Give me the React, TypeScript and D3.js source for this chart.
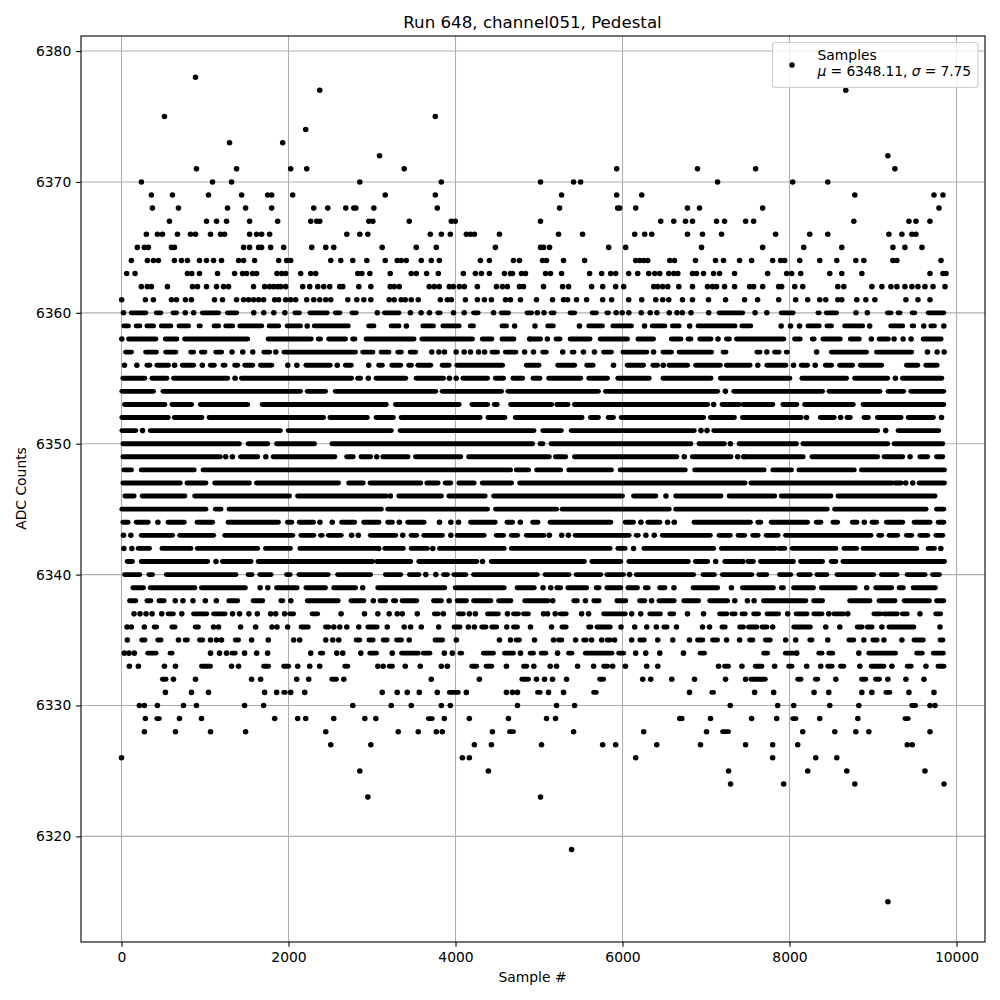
import { useEffect, useRef } from 'react';
import * as d3 from 'd3';

// A row is one ADC level. Entries are single samples, or [first, last] where the
// dots of that level overlap into one bar in the picture.
type Sample = number | [number, number];

const xTicks = [0, 2000, 4000, 6000, 8000, 10000];
const yTicks = [6320, 6330, 6340, 6350, 6360, 6370, 6380];

const row6378: Sample[] = [886];
const row6377: Sample[] = [2374, 8674];
const row6375: Sample[] = [514, 3758];
const row6374: Sample[] = [2206];
const row6373: Sample[] = [1294, 1930];
const row6372: Sample[] = [3090, 9178];
const row6371: Sample[] = [898, 1378, 2026, 2218, 3386, 5930, 6898, 7594, 9262];
const row6370: Sample[] = [238, 1090, 1318, 2854, 3830, 5018, 5414, 5498, 7138, 8038, 8458];
const row6369: Sample[] = [358, 610, 1042, 1438, 1750, 1798, 2050, 3158, 3758, 5270, 5930, 6230, 8782, 9730, 9838];
const row6368: Sample[] = [370, 682, 1270, 1486, 1798, 2302, 2470, 2686, 2782, 2806, 3022, 3782, 5246, 5942, 5966, 6158, 6778, 6922, 7678, 9790];
const row6367: Sample[] = [574, 1018, 1138, 1258, 1534, 1870, 2266, 2338, 2374, 2962, 3010, 3446, 3950, 3998, 5018, 6458, 6614, 6754, 6838, 7126, 7222, 7474, 7570, 8770, 9430, 9514, 9682];
const row6366: Sample[] = [298, 430, 490, 670, 826, 886, 1066, 1186, 1234, 1534, 1618, 1678, 1774, 2698, 2854, 2950, 3698, 3830, 3938, 4130, 4178, 4226, 4526, 5234, 5522, 6146, 6266, 6350, 6778, 6958, 7186, 7834, 8242, 8458, 9190, 9346, 9466, 9514];
const row6365: Sample[] = [190, 274, 322, 598, 634, 1462, 1534, 1642, 1678, 1786, 1942, 2278, 2446, 2542, 3122, 3530, 3770, 4478, 5018, 5054, 5126, 5834, 6038, 6946, 7678, 8170, 8626, 9238, 9382, 9586];
const row6364: Sample[] = [118, 310, 382, 442, 634, 718, 790, 934, 1018, 1102, 1198, 1402, 1462, 1594, 1882, 1978, 2026, 2506, 2626, 2770, 2938, 3158, 3302, 3350, 3410, 3590, 3710, 3806, 4298, 4406, 4694, 4766, 5042, 5090, 5294, 5546, 6158, 6206, 6254, 6302, 6566, 6622, 6874, 7114, 7210, 7402, 7546, 7798, 7894, 7942, 8122, 8362, 8566, 8794, 8890, 9238, 9286, 9814];
const row6363: Sample[] = [62, 162, 790, 842, 934, 1150, 1354, 1450, 1498, 1570, 1618, 1862, 1918, 1966, 2146, 2266, 2326, 2830, 2878, 2974, 3218, 3470, 3530, 3654, 3794, 4094, 4238, 4310, 4406, 4586, 4658, 4682, 4790, 4838, 5078, 5138, 5270, 5606, 5750, 5858, 5918, 6074, 6182, 6314, 6386, 6446, 6554, 6614, 6662, 6838, 6886, 6970, 7090, 7162, 7342, 7738, 7966, 8026, 8134, 8482, 8626, 8866, 9682, 9838, 9874];
const row6362: Sample[] = [238, 310, 358, 550, 850, 910, 1018, 1138, 1222, 1282, 1582, 1714, 1774, 1822, 1870, 1906, 1966, 2170, 2254, 2350, 2422, 2494, 2614, 2650, 2842, 2986, 3218, 3266, 3326, 3686, 3746, 3806, 3926, 3974, 4046, 4106, 4262, 4490, 4562, 4622, 4766, 4814, 5054, 5282, 5354, 5630, 5762, 5918, 6014, 6374, 6422, 6482, 6542, 6674, 6838, 7018, 7078, 7126, 7222, 7342, 7522, 7570, 7678, 7870, 7906, 8062, 8158, 8578, 8650, 8986, 9106, 9214, 9286, 9382, 9466, 9538, 9622, 9718, 9862];
const row6361: Sample[] = [2, 286, 382, 598, 658, 766, 838, 1114, 1210, 1378, 1462, 1522, 1582, 1642, 1702, 1834, 1882, 1966, 2026, 2086, 2218, 2302, 2374, 2446, 2506, 2710, 2818, 2902, 2986, 3206, 3266, 3350, 3398, 3470, 3554, 3818, 3902, 3950, 4118, 4262, 4346, 4430, 4598, 4658, 4778, 4970, 5162, 5294, 5342, 5450, 5570, 5762, 5870, 6074, 6230, 6398, 6482, 6554, 6718, 6838, 7030, 7234, 7462, 7618, 7870, 8074, 8218, 8362, 8434, 8578, 8626, 8806, 8914, 9022, 9394, 9538, 9682];
const row6360: Sample[] = [24, [116, 292], [416, 472], [616, 660], 764, 864, [968, 1164], [1268, 1380], 1584, 1704, 1824, 1956, [2076, 2132], [2256, 2464], [2560, 2616], [2760, 2812], 3064, [3148, 3324], 3460, 3588, 3688, [3788, 3816], 3976, 4104, [4216, 4272], 4456, [4548, 4636], [4856, 4912], 4980, 5060, [5144, 5180], [5372, 5428], [5636, 5688], [5812, 5832], 5924, 5996, 6076, 6224, 6332, 6412, 6560, 6652, 6716, 6820, 7032, [7156, 7440], 7588, 7728, [7900, 8044], [8340, 8356], [8440, 8564], 8796, 8932, [9172, 9216], [9300, 9324], [9468, 9500], [9660, 9848]];
const row6359: Sample[] = [[28, 84], [176, 220], [304, 384], [476, 592], [688, 804], [928, 944], [1108, 1164], [1248, 1332], [1416, 1680], [1768, 1884], [1984, 2144], 2224, [2308, 2716], [2960, 3024], [3228, 3324], 3412, [3608, 3736], [3848, 4044], [4176, 4216], [4556, 4612], 4708, 4952, [5104, 5172], 5484, [5596, 5760], [5884, 6108], 6264, [6356, 6508], [6596, 6680], 6804, [6904, 7348], [7428, 7536], 7900, 8012, 8120, [8220, 8356], [8448, 8504], [8660, 8876], 8960, [9212, 9356], [9468, 9488], 9608, [9692, 9736], 9848];
const row6358: Sample[] = [4, [84, 412], [524, 664], [756, 1512], [1756, 2272], [2356, 2384], [2480, 2684], [2768, 2796], [2928, 3504], [3596, 4204], [4320, 4436], [4556, 4700], 4888, [4900, 5020], 5100, [5204, 5252], [5372, 5612], [5732, 6060], [6184, 6372], [6584, 6700], [6784, 6820], [6924, 7060], 7144, [7244, 7280], [7364, 7932], [8060, 8128], [8272, 8296], [8400, 8608], [8728, 8836], 8980, [9072, 9184], 9252, 9360, 9456, [9600, 9816]];
const row6357: Sample[] = [[48, 120], [288, 420], [528, 652], [828, 864], [956, 1000], [1128, 1200], 1324, 1452, 1572, [1704, 1776], 1848, [1944, 2804], [2888, 3012], [3108, 3204], [3308, 3352], [3456, 3524], 3716, 3800, 3868, 4008, 4104, 4180, 4276, 4348, [4436, 4504], [4596, 4724], 4828, 4934, [5044, 5088], 5284, [5396, 5420], 5532, 5664, [5772, 5868], [6004, 6292], 6372, [6484, 6588], [6676, 7068], [7204, 7240], [7608, 7648], 7728, [7820, 7876], [7960, 7976], 8324, [8500, 8924], [9040, 9464], 9652, 9768, 9852];
const row6356: Sample[] = [36, 184, [304, 340], [424, 564], 636, [728, 864], 968, [1064, 1112], [1216, 1240], [1356, 1392], [1476, 1572], [1664, 1800], 1992, 2100, [2208, 2500], 2584, [2680, 2752], 2960, [3080, 3124], [3236, 3344], [3440, 3472], [3548, 3704], [3840, 3924], [4016, 4564], [4848, 5000], [5224, 5428], [5572, 5648], 5892, [6056, 6252], [6364, 6420], 6488, [6556, 6780], [6876, 7172], [7244, 7528], 7620, [7728, 7956], 8048, [8140, 8216], 8308, [8428, 8504], [8600, 8756], [8848, 9104], [9400, 9536], [9632, 9768]];
const row6355: Sample[] = [[16, 280], [364, 544], [624, 1272], 1360, [1436, 2756], [2828, 2864], 2956, [3048, 3404], [3528, 3856], 3928, 4008, [4088, 4384], [4476, 4576], [4688, 4804], [4928, 5012], [5116, 5500], [5596, 5820], [5944, 6320], [6484, 7060], [7172, 8004], [8148, 8684], [8780, 9176], 9268, [9352, 9824]];
const row6354: Sample[] = [[4, 384], [496, 2144], [2224, 2444], [2560, 3764], [3840, 4552], [4628, 5712], [5796, 7140], 7232, [7332, 8396], [8472, 9084], [9180, 9368], [9452, 9848]];
const row6353: Sample[] = [[36, 520], [604, 840], [944, 1512], [1684, 3172], [3280, 4044], [4196, 4384], [4464, 4500], [4660, 5152], [5212, 5348], [5424, 7020], 7092, [7192, 7400], [7444, 7800], [7920, 8088], [8180, 8764], [8880, 9848]];
const row6352: Sample[] = [[4, 560], [632, 964], [1048, 2420], [2496, 2944], [3048, 3256], [3348, 4296], [4388, 4592], [4716, 5516], [5616, 5712], [5828, 5892], [5984, 6972], [7052, 7340], [7436, 8140], 8204, [8368, 8536], 8612, [8688, 8728], [8892, 8944], [9052, 9336], [9420, 9724], 9820];
const row6351: Sample[] = [[4, 172], 252, [344, 1904], [1996, 3232], [3336, 4940], [5044, 5268], [5384, 6860], 6940, 7012, [7092, 9056], 9152, [9300, 9788]];
const row6350: Sample[] = [[16, 1412], [1516, 1752], [1856, 2312], [2520, 4924], [5012, 5048], [5144, 6820], [6916, 7220], 7292, [7396, 8084], [8160, 9176], [9252, 9836]];
const row6349: Sample[] = [[16, 1184], 1248, 1328, [1424, 1632], 1728, [1816, 2556], [2696, 2776], [2868, 2984], 3056, [3128, 3432], [3520, 4064], [4156, 5124], [5196, 5320], [5424, 6652], 6740, [6836, 7300], 7380, 7452, [7460, 8164], [8268, 9056], [9132, 9356], 9444, [9560, 9656], [9760, 9836]];
const row6348: Sample[] = [[28, 120], [236, 872], [976, 4660], [4728, 4876], [4972, 5260], [5356, 5868], [5972, 6752], [6864, 7696], [7800, 8024], [8112, 8776], [8860, 9856]];
const row6347: Sample[] = [[16, 704], [784, 1012], [1116, 1532], [1616, 2600], [2720, 2896], [2976, 3584], [3656, 3792], [3876, 3944], [4040, 4224], [4320, 4672], [4768, 7468], [7536, 9228], [9260, 9336], 9392, 9476, [9552, 9856]];
const row6346: Sample[] = [[40, 152], [248, 760], [876, 2012], [2108, 3172], 3220, [3320, 3832], [3920, 4356], [4456, 6000], [6132, 6400], 6520, [6636, 7180], [7276, 7824], [7900, 8496], [8580, 9744]];
const row6345: Sample[] = [[4, 1012], [1124, 1192], [1288, 3112], [3188, 4384], [4480, 5212], [5276, 6560], [6636, 8452], [8540, 9636], [9760, 9848]];
const row6344: Sample[] = [[16, 80], [176, 320], 436, [556, 752], [904, 1092], [1276, 1880], [1988, 2040], [2128, 2300], 2376, 2524, [2636, 2792], [2900, 3084], [3188, 3244], 3328, [3428, 3624], 3808, 3944, 4036, [4180, 4476], [4616, 4684], 4776, [4924, 4988], [5132, 5860], [6032, 6132], 6220, [6304, 6448], 6540, 6620, [6856, 7532], [7620, 7656], [7780, 8216], [8320, 8376], [8520, 8576], [8752, 8808], 8896, [8988, 9044], [9160, 9356], [9492, 9684], [9780, 9848]];
const row6343: Sample[] = [24, 112, [236, 612], [696, 1104], [1236, 2052], [2148, 2304], [2384, 2404], [2476, 2632], 2756, 2836, [2980, 3284], 3368, [3468, 3536], [3620, 3844], 3944, [4020, 4344], [4488, 4576], [4668, 4744], [4848, 5060], 5124, 5272, 5352, [5432, 6080], [6164, 6188], 6280, 6380, [6476, 7052], [7156, 7292], [7384, 7464], [7560, 7624], [7720, 7864], [7952, 8976], [9068, 9104], [9192, 9296], [9400, 9464], [9560, 9656], [9752, 9836]];
const row6342: Sample[] = [28, 124, [200, 336], [484, 832], [908, 1632], [1724, 2024], [2136, 3048], 3080, [3152, 3376], [3468, 3664], 3728, [3808, 4584], [4668, 5852], [5944, 6032], 6132, [6256, 7092], [7184, 7828], [7872, 7944], [8032, 8556], [8652, 8804], [8880, 9524], [9660, 9736], 9812];
const row6341: Sample[] = [[68, 132], [236, 1032], 1132, [1208, 1552], [1636, 3008], [3056, 3464], [3560, 4256], 4324, [4428, 5544], [5632, 5980], [6076, 6788], [6872, 7020], 7116, [7224, 7412], 7440, [7500, 7568], [7652, 8048], [8132, 8396], [8500, 8556], [8640, 9856]];
const row6340: Sample[] = [[36, 220], [328, 372], [536, 1372], [1516, 1564], [1656, 1792], [1976, 2020], [2124, 2476], [2588, 2984], [3160, 3344], [3448, 3564], 3644, 3764, [3856, 3904], [3980, 4124], [4216, 4980], [5072, 5360], [5444, 5740], [5812, 6012], 6084, [6164, 6852], [6964, 7100], [7196, 7548], [7632, 7728], [7880, 8016], [8112, 8248], [8328, 8448], [8568, 9008], [9100, 9288], [9408, 9624], [9712, 9796]];
const row6339: Sample[] = [[136, 264], [344, 880], [956, 1484], 1660, 1752, [1856, 2104], [2208, 2444], [2540, 2804], 2888, [3068, 3872], [3996, 4584], [4736, 4944], 5048, 5140, [5212, 5260], [5344, 5572], [5684, 5720], [5812, 5980], [6064, 6180], [6272, 6308], [6444, 6508], 6616, [6844, 7140], 7304, [7436, 7808], [7900, 7928], [8048, 8288], [8380, 8788], 8924, [9032, 9224], [9312, 9364], [9480, 9748]];
const row6338: Sample[] = [[96, 172], [304, 352], [448, 512], 644, 736, 856, 1004, 1136, [1284, 1392], [1576, 1692], [1908, 1932], 2028, [2224, 2596], [2748, 2904], 3016, [3096, 3164], [3256, 3284], [3360, 3536], [3736, 3832], 3924, [4020, 4132], [4216, 4424], [4516, 4664], [4828, 5108], 5164, [5416, 5460], 5556, [5656, 5720], [5932, 6040], [6204, 6268], 6348, [6436, 6620], [6732, 6912], [7044, 7260], 7344, 7496, 7576, [7688, 8196], [8288, 8396], [8720, 8964], [9072, 9264], [9372, 9676], [9760, 9848]];
const row6337: Sample[] = [150, 222, 294, 366, 482, [558, 622], 722, [862, 1022], [1102, 1242], 1330, 1414, 1526, 1626, 1786, 1846, 1954, [2014, 2062], [2282, 2350], 2630, 2910, 3070, 3206, 3302, 3362, 3542, [3746, 3794], 3854, [4034, 4094], 4166, 4238, [4382, 4514], 4622, [4694, 4754], [4814, 4874], 5054, 5102, 5194, [5254, 5326], 5510, 5594, [5774, 6034], 6110, 6218, [6326, 6454], [6566, 6614], 6778, 6970, [7162, 7250], [7310, 7350], [7430, 7470], [7570, 7630], [7730, 7870], 7978, [8078, 8210], [8290, 8390], 8470, [8530, 8650], 8698, [9010, 9090], [9130, 9290], [9350, 9410], 9562, [9750, 9810]];
const row6336: Sample[] = [66, 118, 274, [390, 422], [602, 642], [882, 922], 1102, 1162, 1426, 1606, 1802, 1862, 1990, [2150, 2238], [2442, 2482], 2542, 2614, 2698, 2842, [2950, 3062], 3182, 3386, 3462, 3590, 3798, [3982, 4054], 4154, 4226, [4314, 4366], [4434, 4494], 4614, [4694, 4742], 4898, 5150, [5274, 5326], [5594, 5622], [5694, 5854], 5982, 6146, 6290, 6406, [6494, 6534], 6646, 6958, 7042, [7190, 7230], [7402, 7450], [7510, 7610], [7670, 7730], 7798, [8050, 8250], 8434, 8602, [8810, 8870], [8930, 8990], 9106, [9190, 9490], 9802];
const row6335: Sample[] = [70, [242, 282], [434, 474], 682, [762, 790], [934, 974], 1066, 1138, 1198, [1362, 1402], 1558, 1758, 2062, 2134, 2446, 2530, 2602, [2810, 2854], [2962, 3014], [3134, 3182], [3294, 3354], 3446, [3754, 3846], 4010, 4526, 4658, [4726, 4766], 4946, 5174, [5234, 5274], 5438, [5534, 5566], 5630, 5750, [5814, 5854], 5906, 6110, [6206, 6262], 6422, 6602, 6802, [6898, 6962], [7078, 7138], 7246, 7402, [7522, 7562], [7710, 7770], 7954, 8074, [8242, 8270], 8458, [8710, 8770], 8890, [8998, 9050], 9130, 9346, [9490, 9602], [9802, 9838]];
const row6334: Sample[] = [34, 90, 154, [314, 414], [582, 606], 1066, 1174, 1258, [1322, 1362], 1474, 1618, 1750, 2266, [2382, 2410], 2578, 2650, 2866, [2974, 3054], 3242, [3354, 3554], [3614, 3694], 3866, 3962, [4054, 4074], [4334, 4454], [4586, 4694], 4778, [4894, 4934], [5026, 5082], 5222, [5354, 5394], [5554, 5874], [5954, 6014], 6158, 6278, 6446, 6730, [6930, 6982], [7690, 7738], [7950, 8050], 8086, [8350, 8390], [8470, 8518], 8830, [8950, 9270], [9522, 9590], [9722, 9842]];
const row6333: Sample[] = [94, 202, 514, 646, [958, 1066], 1318, 1402, [1702, 1762], [1942, 2002], 2110, 2254, 2374, [2674, 2710], 3070, 3134, [3206, 3246], 3398, 3578, 3830, 3902, [4194, 4254], [4366, 4434], 4610, [4814, 4854], 4938, 5134, 5210, 5462, 5654, [5774, 5822], 5882, 6034, 6290, 6422, 7150, [7222, 7270], 7430, [7590, 7670], 7822, [7990, 8030], 8206, 8374, [8458, 8510], [8610, 8650], 8842, [8978, 9130], 9226, [9410, 9458], 9634, [9778, 9850]];
const row6332: Sample[] = [[490, 534], 622, 886, 1558, 1666, 2098, 2242, [2518, 2574], 2662, 3710, 4286, [4794, 4874], 4970, 5066, 5162, 5330, [5726, 5774], 6242, 6338, 6590, 6862, 7234, 7474, [7538, 7710], [8098, 8138], [8310, 8338], 8554, [8862, 8914], [9030, 9078], 9178, 9394, 9610];
const row6331: Sample[] = [526, 838, 1042, 1714, 1858, [1942, 1962], 2026, 2194, 3122, 3302, 3422, 3566, 3782, [3926, 4034], 4130, 4610, 4682, 4742, [4982, 5014], 5114, 5294, [5654, 5686], 6802, [7070, 7090], 7582, 7810, 8294, 8470, 8866, 8986, [9154, 9202], 9430, 9730];
const row6330: Sample[] = [214, 274, 430, 742, 898, 1474, 1702, 2770, 3230, 3470, 3830, 3938, 4742, 5210, 5426, 7290, 7858, 8050, 8482, 8830, [9462, 9510], 9682, 9742];
const row6329: Sample[] = [286, [422, 454], 694, 958, 1834, 2110, 2206, 2542, 2914, 3046, [3674, 3722], 3866, 4166, 4634, 5090, 5198, 6686, 6710, 7054, 7546, 7846, [8038, 8078], 8362, 8818, [9382, 9422]];
const row6328: Sample[] = [274, 646, 1066, 1486, 2446, 3314, 3554, 3770, 3842, 4442, [4646, 4694], 5414, 6254, 7006, [7198, 7270], 8158, 8542, 8794, 8950, 9682];
const row6327: Sample[] = [2506, 2986, 4226, 4430, 5030, 5762, 5918, 6410, 6934, 7474, 7798, 8098, 9410, 9470];
const row6326: Sample[] = [0, 4082, 4166, 6158, 7798, 8314, 8566];
const row6325: Sample[] = [2854, 4394, 7270, 8218, 8686, 9622];
const row6324: Sample[] = [7294, 7930, 8782, 9850];
const row6323: Sample[] = [2950, 5018];
const row6319: Sample[] = [5390];
const row6315: Sample[] = [9178];

const levels: [number, Sample[]][] = [
  [6378, row6378], [6377, row6377], [6375, row6375], [6374, row6374], [6373, row6373], [6372, row6372],
  [6371, row6371], [6370, row6370], [6369, row6369], [6368, row6368], [6367, row6367], [6366, row6366],
  [6365, row6365], [6364, row6364], [6363, row6363], [6362, row6362], [6361, row6361], [6360, row6360],
  [6359, row6359], [6358, row6358], [6357, row6357], [6356, row6356], [6355, row6355], [6354, row6354],
  [6353, row6353], [6352, row6352], [6351, row6351], [6350, row6350], [6349, row6349], [6348, row6348],
  [6347, row6347], [6346, row6346], [6345, row6345], [6344, row6344], [6343, row6343], [6342, row6342],
  [6341, row6341], [6340, row6340], [6339, row6339], [6338, row6338], [6337, row6337], [6336, row6336],
  [6335, row6335], [6334, row6334], [6333, row6333], [6332, row6332], [6331, row6331], [6330, row6330],
  [6329, row6329], [6328, row6328], [6327, row6327], [6326, row6326], [6325, row6325], [6324, row6324],
  [6323, row6323], [6319, row6319], [6315, row6315],
];

const FONT = '"DejaVu Sans", sans-serif';
const DOT = 5.56;
const BAR = 4.9; // merged dots scallop in the picture, so their bars read a bit thinner

export default function App() {
  const svgRef = useRef<SVGSVGElement>(null);

  useEffect(() => {
    if (!svgRef.current) return;
    const svg = d3.select(svgRef.current);
    svg.selectAll('*').remove();

    const left = 81, right = 985, top = 36, bottom = 942;
    const x = d3.scaleLinear().domain([-485, 10341]).range([left, right]);
    const y = d3.scaleLinear().domain([6311.93, 6381.15]).range([bottom, top]);

    svg.append('rect').attr('width', 1000).attr('height', 1000).attr('fill', '#fff');

    // Grid
    const grid = svg.append('g').attr('stroke', '#b0b0b0').attr('stroke-width', 1.1);
    xTicks.forEach(t => {
      grid.append('line').attr('x1', x(t)).attr('x2', x(t)).attr('y1', top).attr('y2', bottom);
    });
    yTicks.forEach(t => {
      grid.append('line').attr('x1', left).attr('x2', right).attr('y1', y(t)).attr('y2', y(t));
    });

    // Samples
    const marks = svg.append('g');
    const bar = d3.line<number>().x(d => x(d));
    levels.forEach(([level, samples]) => {
      const yPos = y(level);
      bar.y(yPos);
      samples.forEach(s => {
        if (typeof s === 'number') {
          marks.append('circle').attr('cx', x(s)).attr('cy', yPos).attr('r', DOT / 2).attr('fill', '#000');
        } else {
          marks.append('path')
            .attr('d', bar(s))
            .attr('fill', 'none')
            .attr('stroke', '#000')
            .attr('stroke-width', BAR)
            .attr('stroke-linecap', 'round');
        }
      });
    });

    // Axes
    const xAxis = d3.axisBottom(x).tickValues(xTicks).tickFormat(d3.format('d') as any).tickSize(4.86).tickPadding(4.9);
    const yAxis = d3.axisLeft(y).tickValues(yTicks).tickFormat(d3.format('d') as any).tickSize(4.86).tickPadding(4.9);
    const gx = svg.append('g').attr('transform', `translate(0,${bottom})`).call(xAxis);
    const gy = svg.append('g').attr('transform', `translate(${left},0)`).call(yAxis);
    [gx, gy].forEach(g => {
      g.selectAll('path').remove();
      g.selectAll('line').attr('stroke', '#000').attr('stroke-width', 1.1);
      g.selectAll('text').attr('fill', '#000').style('font-family', FONT).style('font-size', '13.89px');
    });

    // Frame
    svg.append('rect')
      .attr('x', left).attr('y', top).attr('width', right - left).attr('height', bottom - top)
      .attr('fill', 'none').attr('stroke', '#000').attr('stroke-width', 1.1);

    // Titles
    const label = (tx: number, ty: number, text: string, size: number) =>
      svg.append('text').attr('x', tx).attr('y', ty).attr('text-anchor', 'middle')
        .style('font-family', FONT).style('font-size', `${size}px`).attr('fill', '#000').text(text);
    label(532.5, 28, 'Run 648, channel051, Pedestal', 16.67);
    label(532.5, 982, 'Sample #', 13.89);
    label(0, 0, 'ADC Counts', 13.89).attr('transform', `translate(26,488.5) rotate(-90)`);

    // Legend
    const legend = svg.append('g');
    legend.append('rect')
      .attr('x', 772.5).attr('y', 42.5).attr('width', 205.5).attr('height', 45).attr('rx', 3)
      .attr('fill', '#fff').attr('fill-opacity', 0.8).attr('stroke', '#cccccc').attr('stroke-width', 1.1);
    legend.append('circle').attr('cx', 792).attr('cy', 65).attr('r', DOT / 2).attr('fill', '#000');
    const legendText = legend.append('text')
      .style('font-family', FONT).style('font-size', '13.89px').attr('fill', '#000');
    legendText.append('tspan').attr('x', 817.5).attr('y', 60).text('Samples');
    const mathLine = legendText.append('tspan').attr('x', 817.5).attr('y', 76).style('letter-spacing', '-0.1px');
    mathLine.append('tspan').style('font-style', 'italic').text('μ');
    mathLine.append('tspan').text(' = 6348.11, ');
    mathLine.append('tspan').style('font-style', 'italic').text('σ');
    mathLine.append('tspan').text(' = 7.75');
  }, []);

  return (
    <svg
      ref={svgRef}
      width={1000}
      height={1000}
      style={{ position: 'absolute', left: 0, top: 0, display: 'block' }}
    />
  );
}
